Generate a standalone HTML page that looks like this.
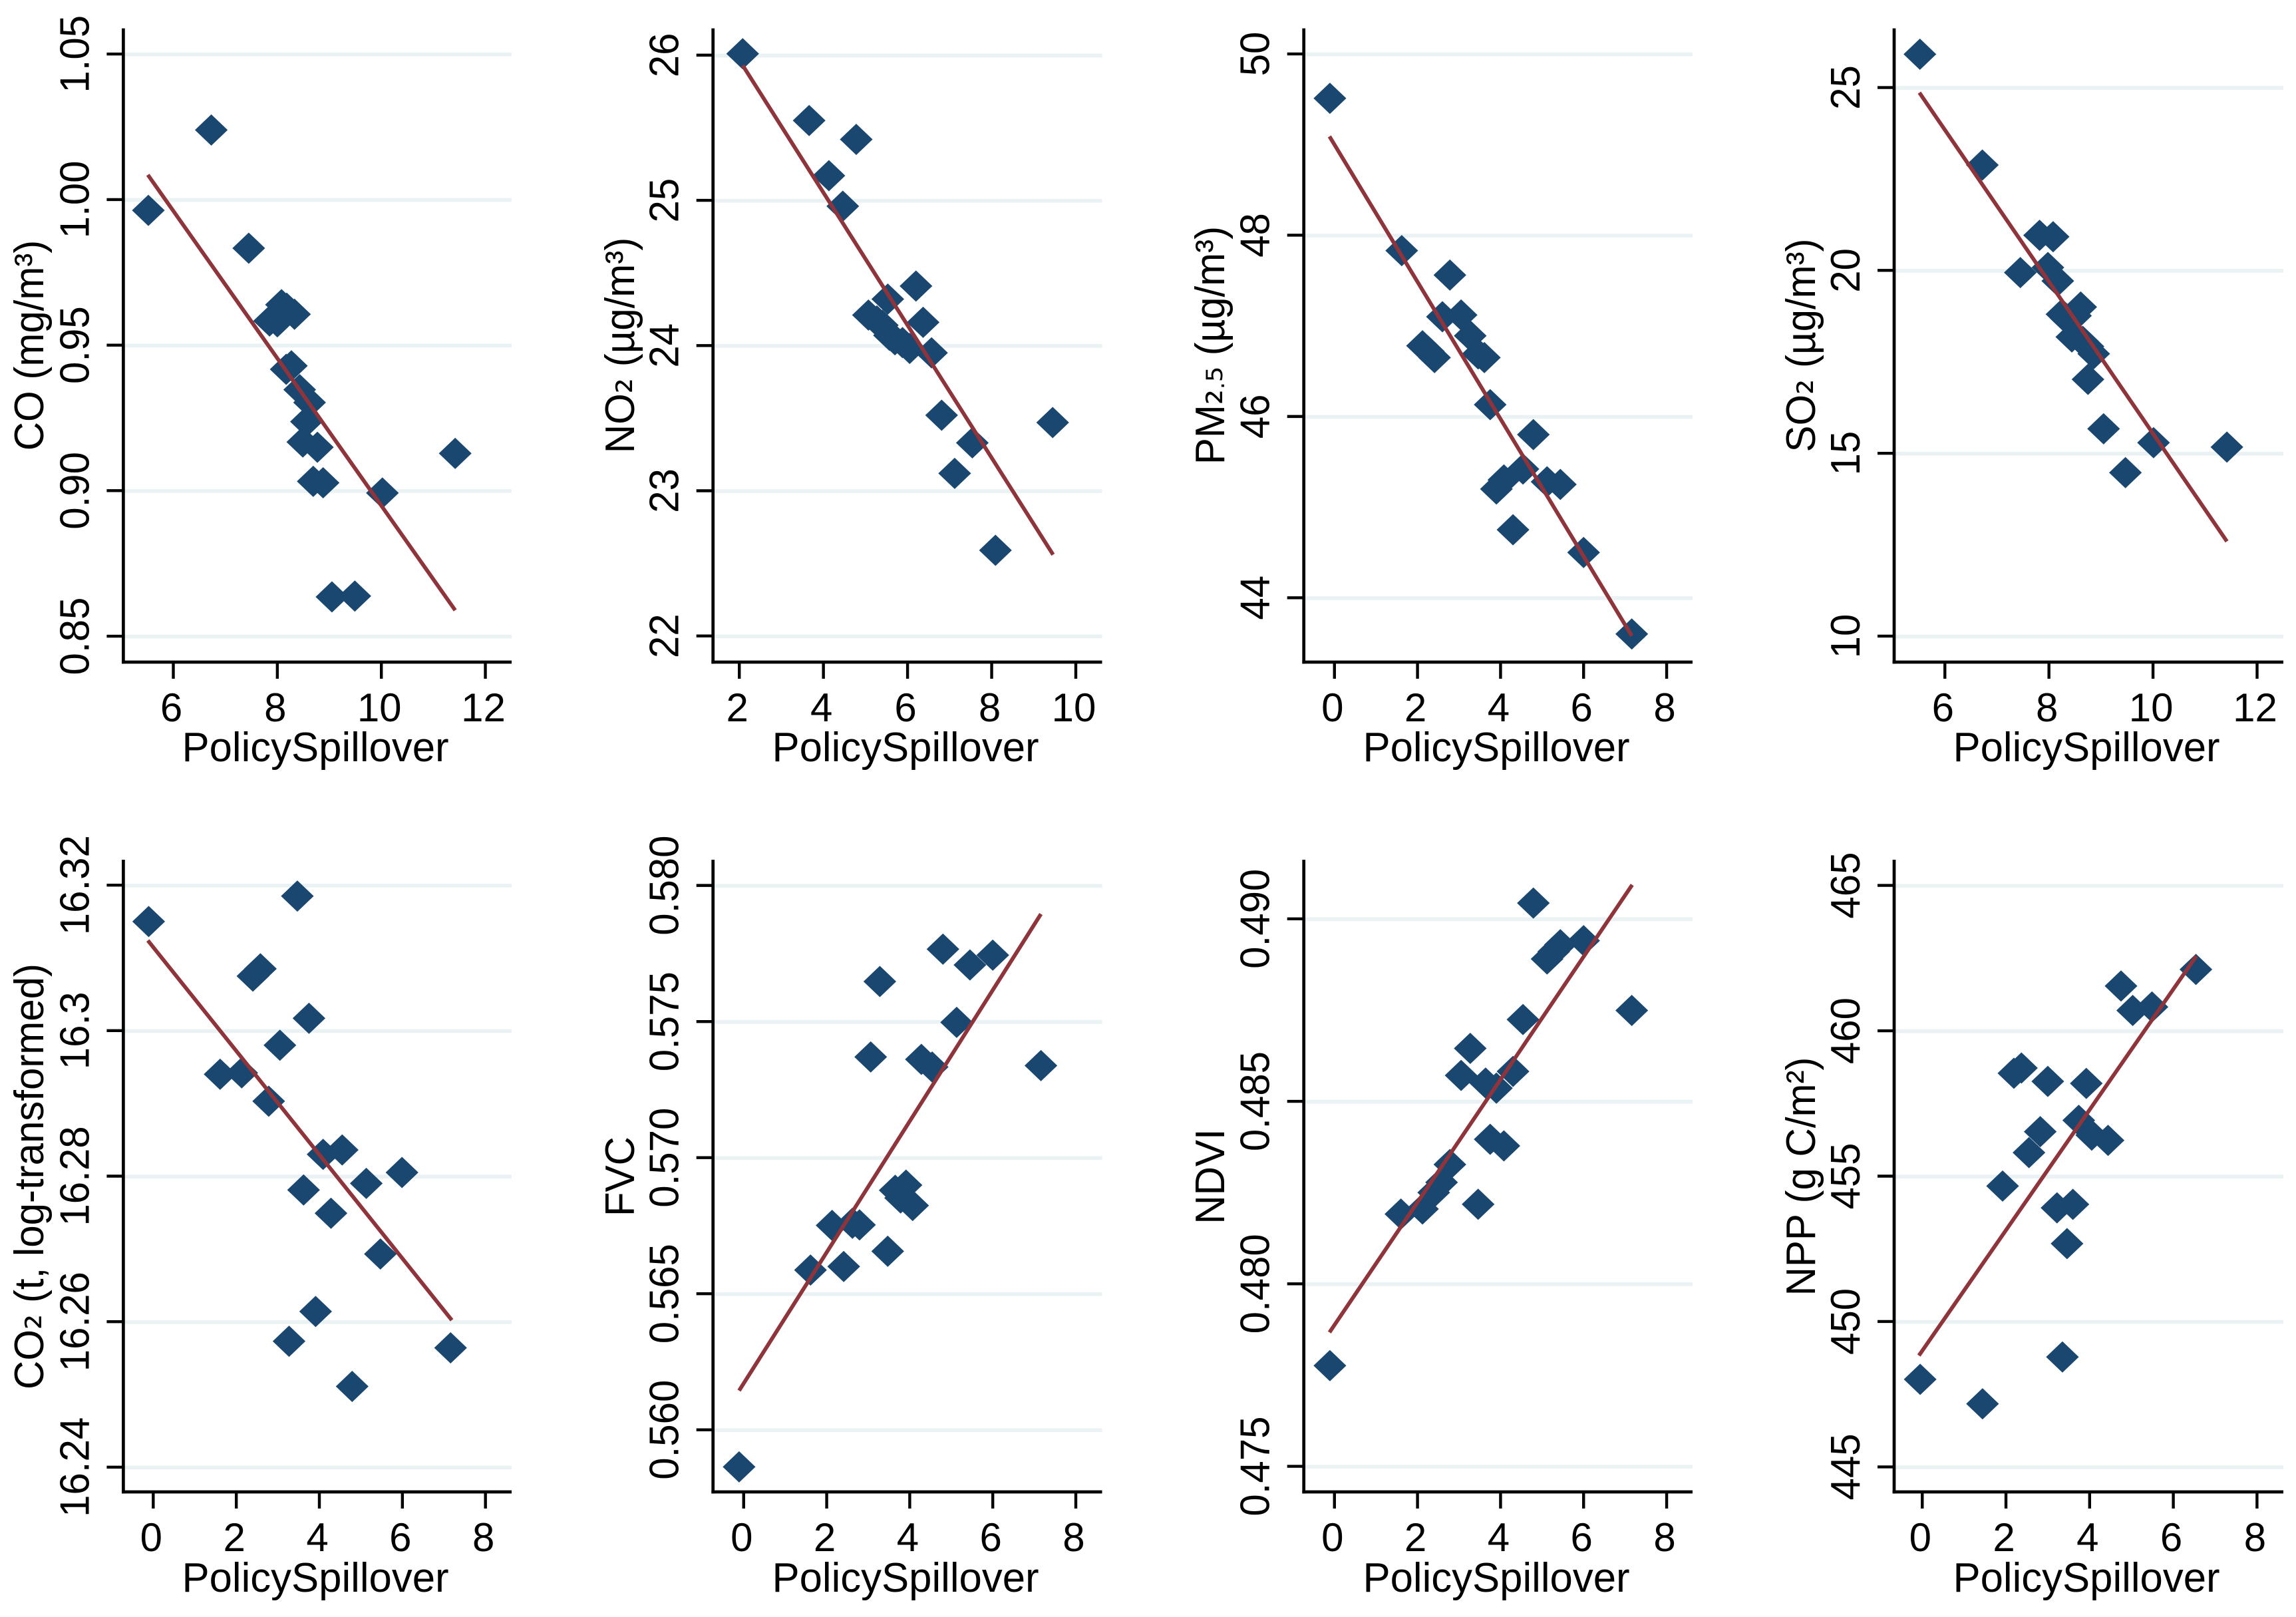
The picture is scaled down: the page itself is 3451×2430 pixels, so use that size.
<!DOCTYPE html>
<html lang="en">
<head>
<meta charset="utf-8">
<title>Policy spillover scatter plots</title>
<style>
html,body{margin:0;padding:0;background:#fff;}
svg{display:block;}
text{font-family:"Liberation Sans",Arial,sans-serif;fill:#000;}
.axis-title{font-size:60px;text-anchor:middle;}
.x-title{font-size:61.7px;text-anchor:middle;}
.sub{font-family:"DejaVu Sans",sans-serif;font-size:58px;}
.subdot{font-size:38px;}
</style>
</head>
<body>
<svg id="figure" xmlns="http://www.w3.org/2000/svg" width="3451" height="2430" viewBox="0 0 3451 2430">
  <rect x="0" y="0" width="3451" height="2430" fill="#fff"/>
  <g id="panel-co">
    <text class="axis-title" transform="translate(65 519) scale(1.03 1) rotate(-90)">CO (mg/m³)</text>
    <text class="x-title" x="474" y="1144">PolicySpillover</text>
  </g>
  <g id="panel-no2">
    <text class="axis-title" transform="translate(953 519) scale(1.03 1) rotate(-90)">NO<tspan class="sub" dy="-3">₂</tspan><tspan dy="3"> (µg/m³)</tspan></text>
    <text class="x-title" x="1361" y="1144">PolicySpillover</text>
  </g>
  <g id="panel-pm25">
    <text class="axis-title" transform="translate(1840 519) scale(1.03 1) rotate(-90)">PM<tspan class="sub" dy="-3">₂</tspan><tspan class="subdot" dy="3">.</tspan><tspan class="sub" dy="-3">₅</tspan><tspan dy="3"> (µg/m³)</tspan></text>
    <text class="x-title" x="2249" y="1144">PolicySpillover</text>
  </g>
  <g id="panel-so2">
    <text class="axis-title" transform="translate(2728 519) scale(1.03 1) rotate(-90)">SO<tspan class="sub" dy="-3">₂</tspan><tspan dy="3"> (µg/m³)</tspan></text>
    <text class="x-title" x="3136" y="1144">PolicySpillover</text>
  </g>
  <g id="panel-co2">
    <text class="axis-title" transform="translate(65 1768) scale(1.03 1) rotate(-90)">CO<tspan class="sub" dy="-3">₂</tspan><tspan dy="3"> (t, log-transformed)</tspan></text>
    <text class="x-title" x="474" y="2392">PolicySpillover</text>
  </g>
  <g id="panel-fvc">
    <text class="axis-title" transform="translate(953 1768) scale(1.03 1) rotate(-90)">FVC</text>
    <text class="x-title" x="1361" y="2392">PolicySpillover</text>
  </g>
  <g id="panel-ndvi">
    <text class="axis-title" transform="translate(1840 1768) scale(1.03 1) rotate(-90)">NDVI</text>
    <text class="x-title" x="2249" y="2392">PolicySpillover</text>
  </g>
  <g id="panel-npp">
    <text class="axis-title" transform="translate(2728 1768) scale(1.03 1) rotate(-90)">NPP (g C/m²)</text>
    <text class="x-title" x="3136" y="2392">PolicySpillover</text>
  </g>
</svg>
<script>
// ---- CO panel data ----
const coX = [5.52,6.73,7.45,7.85,8.0,8.08,8.18,8.33,8.17,8.27,8.43,8.62,8.56,8.49,8.77,8.69,8.88,9.05,9.49,10.02,11.42];
const coY = [0.9963,1.0239,0.9833,0.9583,0.958,0.9639,0.9627,0.9606,0.9417,0.9429,0.9347,0.9303,0.9237,0.9167,0.9149,0.9032,0.9027,0.8635,0.8638,0.8992,0.9128];
const coLineX = [5.51,11.42];
const coLineY = [1.0085,0.8589];
const coXTicks = ['6','8','10','12'];
const coYTicks = ['0.85','0.90','0.95','1.00','1.05'];
const coXDomain = [5.039,12.505];
const coYDomain = [0.8411,1.0586];

// ---- NO2 panel data ----
const no2X = [2.08,3.66,4.78,4.13,4.46,6.20,5.53,6.37,5.07,5.27,5.40,5.57,5.70,5.88,6.05,6.57,6.81,7.54,7.12,8.09,9.45];
const no2Y = [26.01,25.55,25.42,25.17,24.96,24.41,24.32,24.16,24.21,24.17,24.14,24.07,24.04,24.02,23.98,23.95,23.52,23.33,23.12,22.59,23.47];
const no2LineX = [2.08,9.46];
const no2LineY = [25.93,22.56];
const no2XTicks = ['2','4','6','8','10'];
const no2YTicks = ['22','23','24','25','26'];
const no2XDomain = [1.375,10.625];
const no2YDomain = [21.82,26.18];

// ---- PM2.5 panel data ----
const pm25X = [-0.11,1.62,2.78,2.60,3.05,2.12,2.41,2.26,3.27,3.46,3.61,3.75,4.79,4.54,4.08,3.90,5.12,5.44,4.30,6.00,7.16];
const pm25Y = [49.51,47.83,47.56,47.10,47.12,46.78,46.65,46.72,46.89,46.69,46.65,46.13,45.80,45.42,45.30,45.20,45.28,45.25,44.75,44.50,43.60];
const pm25LineX = [-0.12,7.16];
const pm25LineY = [49.09,43.58];
const pm25XTicks = ['0','2','4','6','8'];
const pm25YTicks = ['44','46','48','50'];
const pm25XDomain = [-0.738,8.624];
const pm25YDomain = [43.29,50.275];

// ---- SO2 panel data ----
const so2X = [5.52,6.72,7.45,7.82,8.08,7.98,8.17,8.25,8.33,8.51,8.61,8.44,8.65,8.86,8.75,8.75,9.05,9.47,10.01,11.42];
const so2Y = [25.91,22.88,19.94,20.96,20.92,20.08,19.71,18.80,18.69,18.76,19.0,18.18,18.06,17.72,17.92,17.02,15.67,14.47,15.29,15.17];
const so2LineX = [5.51,11.42];
const so2LineY = [24.86,12.59];
const so2XTicks = ['6','8','10','12'];
const so2YTicks = ['10','15','20','25'];
const so2XDomain = [5.025,12.505];
const so2YDomain = [9.29,26.6];

// ---- CO2 panel data ----
const co2X = [-0.11,3.47,2.58,2.40,3.75,3.05,1.61,2.13,2.78,4.09,4.55,3.62,5.13,5.99,4.28,5.47,3.91,3.27,7.16,4.79];
const co2Y = [16.3150,16.3185,16.3085,16.3075,16.3017,16.2980,16.2940,16.2942,16.2903,16.2830,16.2836,16.2781,16.2790,16.2805,16.2749,16.2693,16.2614,16.2573,16.2564,16.2511];
const co2LineX = [-0.13,7.19];
const co2LineY = [16.3124,16.2602];
const co2XTicks = ['0','2','4','6','8'];
const co2YTicks = ['16.24','16.26','16.28','16.3','16.32'];
const co2XDomain = [-0.72,8.63];
const co2YDomain = [16.2366,16.3234];

// ---- FVC panel data ----
const fvcX = [-0.11,1.61,2.41,2.13,2.62,2.79,3.47,3.06,3.28,3.65,3.91,3.78,4.07,4.28,4.54,4.80,5.13,5.45,6.00,7.16];
const fvcY = [0.55864,0.56587,0.56600,0.56751,0.56759,0.56753,0.56656,0.57370,0.57647,0.56880,0.56899,0.56852,0.56824,0.57361,0.57333,0.57766,0.57497,0.57708,0.57744,0.57338];
const fvcLineX = [-0.11,7.16];
const fvcLineY = [0.56144,0.57895];
const fvcXTicks = ['0','2','4','6','8'];
const fvcYTicks = ['0.560','0.565','0.570','0.575','0.580'];
const fvcXDomain = [-0.738,8.633];
const fvcYDomain = [0.55772,0.58092];

// ---- NDVI panel data ----
const ndviX = [-0.11,1.60,2.12,2.39,2.58,2.78,3.46,3.05,3.27,3.64,3.75,4.08,3.90,4.30,4.54,4.79,5.12,5.28,5.44,6.00,7.16];
const ndviY = [0.47776,0.48191,0.48205,0.48250,0.48278,0.48327,0.48218,0.48571,0.48645,0.48550,0.48396,0.48378,0.48536,0.48582,0.48724,0.49043,0.48890,0.48910,0.48929,0.48940,0.48749];
const ndviLineX = [-0.12,7.17];
const ndviLineY = [0.47867,0.49093];
const ndviXTicks = ['0','2','4','6','8'];
const ndviYTicks = ['0.475','0.480','0.485','0.490'];
const ndviXDomain = [-0.738,8.624];
const ndviYDomain = [0.4743,0.4916];

// ---- NPP panel data ----
const nppX = [-0.05,1.44,3.35,3.46,3.22,3.60,1.92,2.55,2.82,3.74,4.05,4.44,2.19,2.37,3.00,3.92,5.03,5.49,4.75,6.54];
const nppY = [448.01,447.17,448.78,452.68,453.91,454.03,454.66,455.81,456.53,456.92,456.41,456.23,458.54,458.72,458.26,458.19,460.70,460.82,461.54,462.11];
const nppLineX = [-0.08,6.55];
const nppLineY = [448.83,462.57];
const nppXTicks = ['0','2','4','6','8'];
const nppYTicks = ['445','450','455','460','465'];
const nppXDomain = [-0.672,8.63];
const nppYDomain = [444.14,465.86];

// ---- layout + styling (not data) ----
const NS = 'http://www.w3.org/2000/svg';
const colLeft = [185.4,1071.7,1959.7,2847];
const colRight = [769,1656.5,2544,3432];
const rowTop = [43.6,1293];
const rowBottom = [995,2242];
const INK = '#000000';
const GRID = '#eaf2f3';
const NAVY = '#1a476f';
const MAROON = '#8f343b';
const AXIS_W = 4.7;
const TICK_W = 4.4;
const GRID_W = 5.7;
const LINE_W = 5.8;
const TICK_LEN = 25;
const DIAMOND_X = 24.6;
const DIAMOND_Y = 23.5;
const TICK_FONT = 60;
const Y_TICK_STRETCH = 1.04;

function make(parent, tag, attrs) {
  const el = document.createElementNS(NS, tag);
  for (const k in attrs) el.setAttribute(k, attrs[k]);
  parent.appendChild(el);
  return el;
}

function linear(domain, r0, r1) {
  return function (v) { return r0 + (v - domain[0]) / (domain[1] - domain[0]) * (r1 - r0); };
}

function drawPanel(id, col, row, xs, ys, lineXs, lineYs, xTicks, yTicks, xDomain, yDomain) {
  const root = document.getElementById('panel-' + id);
  const L = colLeft[col], R = colRight[col], T = rowTop[row], B = rowBottom[row];
  const x = linear(xDomain, L, R);
  const y = linear(yDomain, B, T);

  yTicks.forEach(function (label) {
    const py = y(parseFloat(label));
    const grid = make(root, 'line', {x1: L, x2: R, y1: py + 0.6, y2: py + 0.6, stroke: GRID, 'stroke-width': GRID_W});
    
    
  });

  const yAxis = make(root, 'line', {x1: L, x2: L, y1: T - 1, y2: B + AXIS_W / 2, stroke: INK, 'stroke-width': AXIS_W});
  
  
  const xAxis = make(root, 'line', {x1: L - AXIS_W / 2, x2: R, y1: B, y2: B, stroke: INK, 'stroke-width': AXIS_W});
  
  

  yTicks.forEach(function (label) {
    const py = y(parseFloat(label));
    const tick = make(root, 'line', {x1: L - TICK_LEN, x2: L, y1: py, y2: py, stroke: INK, 'stroke-width': TICK_W});
    
    
    const text = make(root, 'text', {transform: 'translate(' + (L - 52) + ' ' + py + ') scale(' + Y_TICK_STRETCH + ' 1) rotate(-90)', 'text-anchor': 'middle', 'font-size': TICK_FONT});
    
    
    text.textContent = label;
  });

  xTicks.forEach(function (label) {
    const px = x(parseFloat(label));
    const tick = make(root, 'line', {x1: px, x2: px, y1: B, y2: B + TICK_LEN, stroke: INK, 'stroke-width': TICK_W});
    
    
    const text = make(root, 'text', {x: px - 3, y: B + 89, 'text-anchor': 'middle', 'font-size': TICK_FONT});
    
    
    text.textContent = label;
  });

  xs.forEach(function (v, i) {
    const px = x(v), py = y(ys[i]);
    const point = make(root, 'polygon', {
      points: px + ',' + (py - DIAMOND_Y) + ' ' + (px + DIAMOND_X) + ',' + py + ' ' + px + ',' + (py + DIAMOND_Y) + ' ' + (px - DIAMOND_X) + ',' + py,
      fill: NAVY
    });
    
    
  });

  const fit = make(root, 'polyline', {
    points: lineXs.map(function (v, i) { return x(v) + ',' + y(lineYs[i]); }).join(' '),
    fill: 'none', stroke: MAROON, 'stroke-width': LINE_W
  });
  
  
}

drawPanel('co', 0, 0, coX, coY, coLineX, coLineY, coXTicks, coYTicks, coXDomain, coYDomain);
drawPanel('no2', 1, 0, no2X, no2Y, no2LineX, no2LineY, no2XTicks, no2YTicks, no2XDomain, no2YDomain);
drawPanel('pm25', 2, 0, pm25X, pm25Y, pm25LineX, pm25LineY, pm25XTicks, pm25YTicks, pm25XDomain, pm25YDomain);
drawPanel('so2', 3, 0, so2X, so2Y, so2LineX, so2LineY, so2XTicks, so2YTicks, so2XDomain, so2YDomain);
drawPanel('co2', 0, 1, co2X, co2Y, co2LineX, co2LineY, co2XTicks, co2YTicks, co2XDomain, co2YDomain);
drawPanel('fvc', 1, 1, fvcX, fvcY, fvcLineX, fvcLineY, fvcXTicks, fvcYTicks, fvcXDomain, fvcYDomain);
drawPanel('ndvi', 2, 1, ndviX, ndviY, ndviLineX, ndviLineY, ndviXTicks, ndviYTicks, ndviXDomain, ndviYDomain);
drawPanel('npp', 3, 1, nppX, nppY, nppLineX, nppLineY, nppXTicks, nppYTicks, nppXDomain, nppYDomain);
</script>
</body>
</html>
